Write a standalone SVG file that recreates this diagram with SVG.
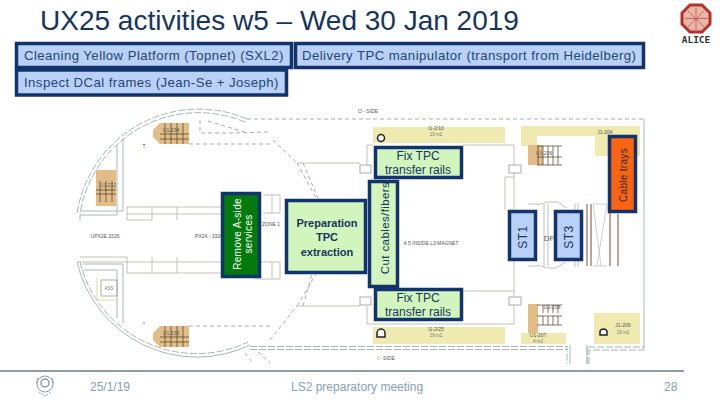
<svg xmlns="http://www.w3.org/2000/svg" width="720" height="405" viewBox="0 0 720 405">
<style>
text{font-family:"Liberation Sans",Arial,sans-serif}
.blue{fill:#b9d1f7;stroke:#12336b;stroke-width:3.5}
.lime{fill:#d2f4bd;stroke:#12336b;stroke-width:3.5}
.t{font-size:13.2px;letter-spacing:.43px;fill:#27456f}
.c{font-size:12px;fill:#17365d;text-anchor:middle}
.b{font-size:11px;font-weight:bold;fill:#17365d;text-anchor:middle}
.w{fill:none;stroke:#a9b9b5;stroke-width:1}
.g{fill:none;stroke:#c4c1b6;stroke-width:1}
.d{fill:none;stroke:#888;stroke-width:.7;stroke-dasharray:4 3}
.d2{fill:none;stroke:#8fa3a0;stroke-width:.8;stroke-dasharray:7 2}
.y{fill:#eeeab0}
.tan{fill:#e2bd88}
.s{font-size:4.500px;fill:#777;text-anchor:middle}
.s2{font-size:5px;fill:#555;text-anchor:middle}
.f{font-size:12px;fill:#86a0b8}
.st{stroke:#4a3a28;stroke-width:.7;fill:none}
.br{stroke:#9a6a50;stroke-width:1.200;fill:none}
</style>
<rect width="720" height="405" fill="#fff"/>
<text x="40" y="30" font-size="28" fill="#17365d">UX25 activities w5 – Wed 30 Jan 2019</text>
<g id="logo">
<polygon points="690,5 702,5 710,13 710,24 702,32 690,32 682,24 682,13" fill="#e9b7a8" stroke="#b8302a" stroke-width="3"/>
<path d="M696 8V30M685 18.500H708M688 11L704 27M704 11L688 27" stroke="#c9503f" stroke-width=".8"/>
<text x="696" y="43" font-size="9.500" font-weight="bold" text-anchor="middle" fill="#333" style="font-family:'DejaVu Sans Mono',monospace">ALICE</text>
</g>
<g id="plan">
<path class="d" d="M247 119H644"/>
<path class="w" d="M644 119V350"/>
<path class="d2" d="M250 346.500H567V364"/>
<path class="d2" d="M587 364V347H644"/>
<path class="d2" d="M250 349.500H567"/>
<path class="d2" d="M589 364V350H644"/>
<path class="w" d="M570 345V364M587 345V364"/>
<path class="d" d="M245 353L253 363M258 352L270 363"/>
<path class="d2" d="M247 119A123 123 0 0 0 77 214"/>
<path class="d2" d="M245 122A120 120 0 0 0 80 214"/>
<path class="w" d="M77 262A123 123 0 0 0 250 345"/>
<path class="d2" d="M80 262A120 120 0 0 0 248 342"/>
<path class="d" d="M273 140L297 163M297 163L316 198M303 163L318 198M297 306L316 274M303 306L312 274M270 340L297 306"/>
<path class="w" d="M117 145V215H80V221M123 138V211H80"/>
<path class="w" d="M83 264H123V323M83 270H117V318"/>
<path class="g" d="M127 207H221M127 214H221M127 220H152M152 207V220M177 207V220M127 207V220M127 257V273M152 257V273M177 257V273M77 262H221M127 273H221M80 257H127"/>
<path class="g" d="M263 195H280V213H263M272 195V213M261 262H280V279H255M272 262V279"/>
<path class="d" d="M200 120V133H232L270 132M208 121L244 132M189 144H270"/>
<path class="d" d="M189 326H270"/>
<rect class="tan" x="96" y="170" width="20" height="36"/>
<path class="st" d="M100 181V202M106 181V202M112 181V202M96 190H116M96 194H116"/>
<path class="tan" d="M160 123H189V144H160L153 137V130Z"/>
<path class="st" d="M165 123V144M171 123V144M177 123V144M183 123V144M160 134H189M160 139H189"/>
<path class="tan" d="M160 326H189V347H160L153 340V333Z"/>
<path class="st" d="M165 326V347M171 326V347M177 326V347M183 326V347M160 337H189M160 342H189"/>
<path d="M97 278V300H117" fill="none" stroke="#f0d69a"/>
<rect x="101" y="280" width="16" height="16" fill="none" stroke="#999" stroke-width=".8"/>
<text class="s" x="109" y="290">ASS</text>
<path class="y" d="M373 127H505V143H373Z"/>
<path class="y" d="M521 126H640V156H595V136H537V146H521Z"/>
<path class="y" d="M373 327H505V344H373Z"/>
<path class="y" d="M521 333H566V344H521Z"/>
<rect class="y" x="594" y="313" width="46" height="31"/>
<rect class="tan" x="528" y="145" width="15" height="20"/>
<rect class="tan" x="528" y="304" width="10" height="29"/>
<path class="st" d="M538 146V156M543 146V156M548 146V156M553 146V156M558 146V156M538 156V165M543 156V165M548 156V165M553 156V165M558 156V165M537 146H562M537 157H562M537 165H562"/>
<path class="st" d="M543 305V313M548 305V313M553 305V313M558 305V313M543 316V325M548 316V325M553 316V325M558 316V325M537 316H562M537 325H562M537 305H562"/>
<path class="g" d="M367 145H373M367 145V165M463 145H514V210M505 177H514M505 177V210M367 306V324H514V261M463 291H514"/>
<path class="g" d="M297 163H360M297 306H360"/>
<rect x="360" y="165" width="11" height="8" fill="#fff" stroke="#aaa"/>
<rect x="360" y="297" width="11" height="8" fill="#fff" stroke="#aaa"/>
<rect x="509" y="165" width="12" height="8" fill="#fff" stroke="#aaa"/>
<rect x="509" y="297" width="12" height="8" fill="#fff" stroke="#aaa"/>
<path class="g" d="M528 204H538M528 266H538M537 205L548 202H558L566 208M537 265L548 268H556L566 262M544 204V266M548 204V266"/>
<path class="g" d="M575 203V210M578 203V210M575 261V267M578 261V267"/>
<path class="br" d="M587 204V266M591 204V266M610 204V266M618 214V266"/>
<path d="M593 204H607M593 266H607M593 204L601 266M607 204L597 266" stroke="#bbb" stroke-width=".7" fill="none"/>
<circle cx="381" cy="138" r="3.500" fill="#fff" stroke="#222" stroke-width="1.500"/>
<path d="M377 337v-4a4 4 0 0 1 8 0v4z" fill="#fff" stroke="#222" stroke-width="1.500"/>
<path d="M600 335v-4a4 4 0 0 1 7 0v4z" fill="#fff" stroke="#222" stroke-width="1.500"/>
<text class="s2" x="368" y="113">O - SIDE</text>
<text class="s2" x="386" y="360">I - SIDE</text>
<text class="s2" x="431" y="245">A 5 INSIDE L3 MAGNET</text>
<text class="s2" x="105" y="238">UPX2E  3326</text>
<text class="s2" x="209" y="238">PX24 - 3326</text>
<text class="s2" x="271" y="226">ZONE 1</text>
<text class="s2" x="171" y="132">U1-234</text>
<text class="s2" x="108" y="187">U1-212</text>
<text class="s2" x="171" y="335">U1-235</text>
<text class="s2" x="436" y="130">I1-2/10</text>
<text class="s" x="436" y="136">19 m2</text>
<text class="s2" x="436" y="331">I1-2/25</text>
<text class="s" x="436" y="337">19 m2</text>
<text class="s2" x="605" y="134">J1-204</text>
<text class="s2" x="623" y="327">J1-209</text>
<text class="s" x="623" y="334">19 m2</text>
<text class="s2" x="538" y="337">U1-207</text>
<text class="s" x="538" y="343">4 m2</text>
<text class="s2" x="544" y="155">U1-206</text>
<text class="s2" x="552" y="309">U1-208</text>
<text class="s2" x="549" y="241" style="font-size:8px">DF</text>
<text class="s2" x="144" y="148">T</text>
<text class="s2" x="144" y="325">I</text>
</g>
<g id="footer">
<path d="M0 371H684" stroke="#25384e" stroke-width="1"/>
<g fill="none" stroke="#8c9bb0" stroke-width="1"><circle cx="45" cy="384" r="8"/><circle cx="45" cy="383" r="4" stroke-width="1.500"/><path d="M39 392L45 396L51 392M38 378L36 384M52 378L54 384" stroke-dasharray="2 1"/></g>
<text class="f" x="90" y="391">25/1/19</text>
<text class="f" x="291" y="391">LS2 preparatory meeting</text>
<text class="f" x="664" y="391">28</text>
</g>
<g id="n-cleaning"><rect class="blue" x="16.500" y="43.500" width="275" height="24"/><text class="t" x="24" y="60">Cleaning Yellow Platform (Topnet) (SXL2)</text></g>
<g id="n-delivery"><rect class="blue" x="295.500" y="43.500" width="348" height="24"/><text class="t" x="302" y="60">Delivery TPC manipulator (transport from Heidelberg)</text></g>
<g id="n-inspect"><rect class="blue" x="16.500" y="70" width="270" height="25"/><text class="t" x="24" y="87">Inspect DCal frames (Jean-Se + Joseph)</text></g>
<g id="n-prep"><rect class="lime" x="286.500" y="200.500" width="79" height="72"/><text class="b" x="327" y="227">Preparation</text><text class="b" x="327" y="241">TPC</text><text class="b" x="327" y="256">extraction</text></g>
<g id="n-cut"><rect class="lime" x="369.500" y="181.500" width="28" height="105"/><text class="c" style="font-size:11.500px" letter-spacing=".4" transform="translate(389 228) rotate(-90)">Cut cables/fibers</text></g>
<g id="n-fix-top"><rect class="lime" x="375.500" y="147.500" width="86" height="30"/><text class="c" x="418" y="160">Fix TPC</text><text class="c" x="418" y="174">transfer rails</text></g>
<g id="n-fix-bottom"><rect class="lime" x="375.500" y="289.500" width="86" height="30"/><text class="c" x="418" y="302">Fix TPC</text><text class="c" x="418" y="316">transfer rails</text></g>
<g id="n-remove"><rect x="222.500" y="193.500" width="37" height="83" fill="#037a0c" stroke="#12336b" stroke-width="3.500"/><text font-size="10" fill="#fff" text-anchor="middle" letter-spacing=".3" transform="translate(240.500 234) rotate(-90)">Remove A-side</text><text font-size="10" fill="#fff" text-anchor="middle" letter-spacing=".3" transform="translate(252 234) rotate(-90)">services</text></g>
<g id="n-st1"><rect class="blue" x="509.500" y="211.500" width="26" height="48"/><text class="c" letter-spacing=".5" transform="translate(527 237) rotate(-90)">ST1</text></g>
<g id="n-st3"><rect class="blue" x="555.500" y="211.500" width="26" height="48"/><text class="c" letter-spacing=".5" transform="translate(573 237) rotate(-90)">ST3</text></g>
<g id="n-cable"><rect x="609.500" y="136.500" width="26" height="75" fill="#fb6410" stroke="#12336b" stroke-width="3.500"/><text font-size="10" fill="#2a2a3a" text-anchor="middle" letter-spacing=".3" transform="translate(627 175) rotate(-90)">Cable trays</text></g>
</svg>
